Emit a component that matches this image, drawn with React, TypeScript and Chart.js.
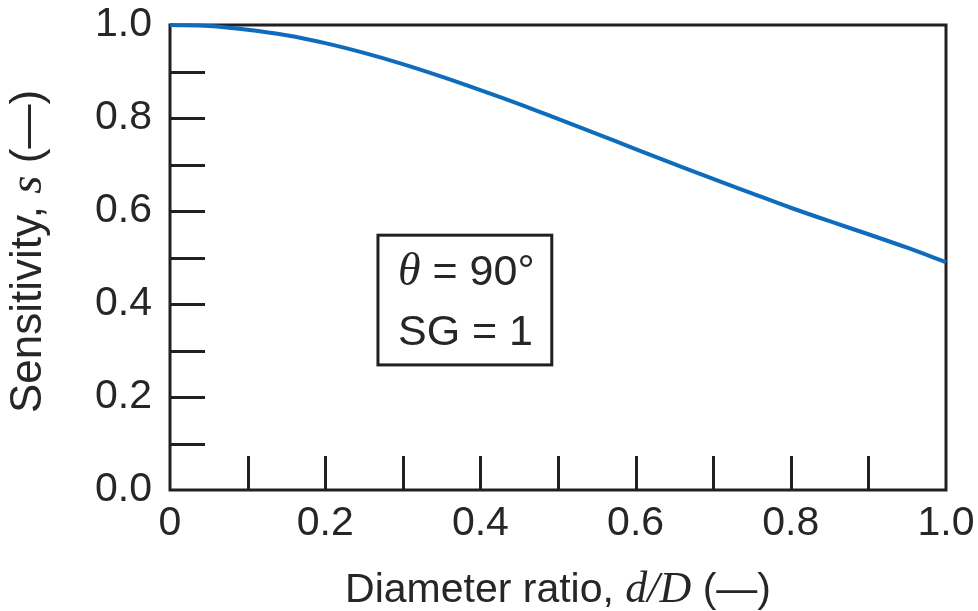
import React, { useEffect, useRef } from 'react';
import { Chart, registerables } from 'chart.js';

Chart.register(...registerables);

// ---- data ----
const diameterRatio = [0, 0.05, 0.1, 0.15, 0.2, 0.25, 0.3, 0.35, 0.4, 0.45, 0.5, 0.55, 0.6, 0.65, 0.7, 0.75, 0.8, 0.85, 0.9, 0.95, 1.0];
const sensitivity = [1.0, 0.998, 0.99, 0.978, 0.961, 0.94, 0.916, 0.889, 0.86, 0.83, 0.798, 0.766, 0.733, 0.701, 0.669, 0.638, 0.607, 0.578, 0.55, 0.521, 0.49];
const xTickValues = [0, 0.1, 0.2, 0.3, 0.4, 0.5, 0.6, 0.7, 0.8, 0.9, 1.0];
const xTickLabels = ['0', '', '0.2', '', '0.4', '', '0.6', '', '0.8', '', '1.0'];
const yTickValues = [0, 0.1, 0.2, 0.3, 0.4, 0.5, 0.6, 0.7, 0.8, 0.9, 1.0];
const yTickLabels = ['0.0', '', '0.2', '', '0.4', '', '0.6', '', '0.8', '', '1.0'];
const xTitleParts = [
  { text: 'Diameter ratio, ', italic: false },
  { text: 'd/D', italic: true },
  { text: ' (—)', italic: false },
];
const yTitleParts = [
  { text: 'Sensitivity, ', italic: false },
  { text: 's', italic: true },
  { text: ' (—)', italic: false },
];
const boxLines = [
  [{ text: 'θ', italic: true }, { text: ' = 90°', italic: false }],
  [{ text: 'SG = 1', italic: false }],
];
const boxCorners = { x0: 0.268, x1: 0.492, y0: 0.548, y1: 0.269 };

const DARK = '#231f20';
const TEXT = '#262626';
const BLUE = '#0f6cbd';
const SANS = '"Liberation Sans", Arial, sans-serif';
const SERIF = '"Liberation Serif", "Times New Roman", serif';
const FS = 41;

function partFont(italic: boolean, size: number) {
  return italic ? `italic ${size + 3}px ${SERIF}` : `${size}px ${SANS}`;
}

function drawParts(ctx: CanvasRenderingContext2D, parts: { text: string; italic: boolean }[], x: number, y: number, size: number, align: 'left' | 'center') {
  let total = 0;
  for (const p of parts) {
    ctx.font = partFont(p.italic, size);
    total += ctx.measureText(p.text).width;
  }
  let cx = align === 'center' ? x - total / 2 : x;
  ctx.textAlign = 'left';
  ctx.textBaseline = 'alphabetic';
  for (const p of parts) {
    ctx.font = partFont(p.italic, size);
    ctx.fillText(p.text, cx, y);
    cx += ctx.measureText(p.text).width;
  }
}

const decorPlugin = {
  id: 'decor',
  beforeDatasetsDraw(chart: any) {
    const { ctx, chartArea: a, scales } = chart;
    const x = scales.x;
    const y = scales.y;
    ctx.save();
    ctx.strokeStyle = DARK;
    ctx.lineWidth = 3;
    ctx.lineCap = 'butt';
    for (const v of xTickValues) {
      if (v <= 0 || v >= 1) continue;
      const px = Math.round(x.getPixelForValue(v)) + 0.5;
      ctx.beginPath();
      ctx.moveTo(px, a.bottom);
      ctx.lineTo(px, a.bottom - 34);
      ctx.stroke();
    }
    for (const v of yTickValues) {
      if (v <= 0 || v >= 1) continue;
      const py = Math.round(y.getPixelForValue(v)) + 0.5;
      ctx.beginPath();
      ctx.moveTo(a.left, py);
      ctx.lineTo(a.left + 35, py);
      ctx.stroke();
    }
    ctx.strokeRect(a.left, a.top, a.right - a.left, a.bottom - a.top);
    ctx.restore();
  },
  afterDraw(chart: any) {
    const { ctx, chartArea: a, scales } = chart;
    const x = scales.x;
    const y = scales.y;
    ctx.save();
    ctx.fillStyle = TEXT;
    drawParts(ctx, xTitleParts, (a.left + a.right) / 2, a.bottom + 112, 41, 'center');
    ctx.save();
    ctx.translate(41, (a.top + a.bottom) / 2 - 6);
    ctx.rotate(-Math.PI / 2);
    drawParts(ctx, yTitleParts, 0, 0, 44, 'center');
    ctx.restore();
    const bx0 = x.getPixelForValue(boxCorners.x0);
    const bx1 = x.getPixelForValue(boxCorners.x1);
    const by0 = y.getPixelForValue(boxCorners.y0);
    const by1 = y.getPixelForValue(boxCorners.y1);
    ctx.fillStyle = '#ffffff';
    ctx.fillRect(bx0, by0, bx1 - bx0, by1 - by0);
    ctx.strokeStyle = DARK;
    ctx.lineWidth = 3;
    ctx.strokeRect(bx0, by0, bx1 - bx0, by1 - by0);
    ctx.fillStyle = TEXT;
    drawParts(ctx, boxLines[0], bx0 + 20, by0 + 50, 43, 'left');
    drawParts(ctx, boxLines[1], bx0 + 20, by0 + 110, 43, 'left');
    ctx.restore();
  },
};

function zeroPad(s: any) {
  s.paddingLeft = 0;
  s.paddingRight = 0;
  s.paddingTop = 0;
  s.paddingBottom = 0;
}

export default function App() {
  const ref = useRef<HTMLCanvasElement | null>(null);
  useEffect(() => {
    if (!ref.current) return;
    const chart = new Chart(ref.current, {
      type: 'line',
      data: {
        datasets: [
          {
            data: diameterRatio.map((d, i) => ({ x: d, y: sensitivity[i] })),
            borderColor: BLUE,
            borderWidth: 4,
            pointRadius: 0,
            fill: false,
            cubicInterpolationMode: 'monotone',
            clip: false,
          } as any,
        ],
      },
      options: {
        animation: false,
        responsive: false,
        layout: { padding: { top: 25, right: 32, left: 0, bottom: 0 } },
        plugins: { legend: { display: false }, tooltip: { enabled: false }, title: { display: false } },
        scales: {
          x: {
            type: 'linear',
            min: 0,
            max: 1,
            afterFit: (s: any) => { s.height = 121; zeroPad(s); },
            afterBuildTicks: (s: any) => { s.ticks = xTickValues.map((v) => ({ value: v })); },
            grid: { display: false },
            border: { display: false },
            ticks: {
              autoSkip: false,
              maxRotation: 0,
              padding: 1,
              color: TEXT,
              font: { family: SANS, size: FS },
              callback: (_v: any, i: number) => xTickLabels[i],
            },
          },
          y: {
            type: 'linear',
            min: 0,
            max: 1,
            afterFit: (s: any) => { s.width = 170; zeroPad(s); },
            afterBuildTicks: (s: any) => { s.ticks = yTickValues.map((v) => ({ value: v })); },
            grid: { display: false },
            border: { display: false },
            ticks: {
              autoSkip: false,
              padding: 10,
              color: TEXT,
              font: { family: SANS, size: FS },
              callback: (_v: any, i: number) => yTickLabels[i],
            },
          },
        },
      },
      plugins: [decorPlugin],
    });
    return () => chart.destroy();
  }, []);
  return (
    <div style={{ position: 'absolute', left: 0, top: 0, width: 978, height: 611, background: '#fff' }}>
      <canvas ref={ref} width={978} height={611} style={{ display: 'block' }} />
    </div>
  );
}
